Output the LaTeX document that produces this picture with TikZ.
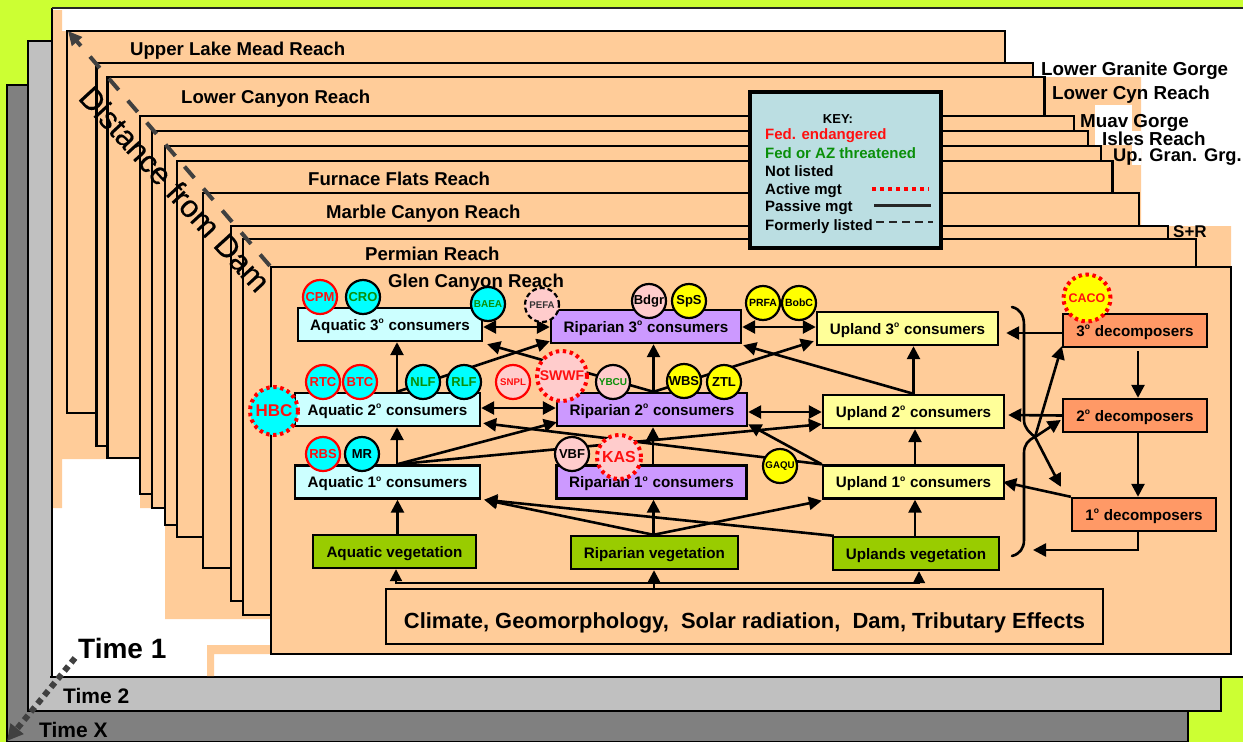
\documentclass[tikz,border=0pt]{standalone}
\usepackage{fontspec}
\setmainfont{Liberation Sans}
\newfontfamily\distfont[FakeBold=0.4]{Liberation Sans}
\usetikzlibrary{arrows.meta,calc}
\pgfdeclarelayer{backlayer}
\pgfdeclarelayer{linelayer}
\pgfsetlayers{backlayer,linelayer,main}
\newcommand{\fz}[1]{\fontsize{#1}{#1}\selectfont}
\newcommand{\ordo}{\raisebox{.42em}{\fz{8.5}o}\kern.6pt}
\definecolor{lime}{HTML}{CCFF33}
\definecolor{peach}{HTML}{FFCC99}
\definecolor{lgray}{HTML}{C0C0C0}
\definecolor{dgray}{HTML}{808080}
\definecolor{aqfill}{HTML}{CCFFFF}
\definecolor{ripfill}{HTML}{CC99FF}
\definecolor{upfill}{HTML}{FFFF99}
\definecolor{decfill}{HTML}{FF9966}
\definecolor{vegfill}{HTML}{99CC00}
\definecolor{spcyan}{HTML}{00FFFF}
\definecolor{spyellow}{HTML}{FFFF00}
\definecolor{sppink}{HTML}{FFCCCC}
\definecolor{keyfill}{HTML}{BBDEE2}
\definecolor{tgreen}{HTML}{0A8F0A}
\definecolor{tred}{HTML}{FF1010}
\definecolor{arrowgray}{HTML}{404040}
\tikzset{
  card/.style={draw=black,fill=peach,line width=2.2},
  lab/.style={anchor=base west,inner sep=0,font=\bfseries\fz{18.6}},
  sidelab/.style={anchor=base west,inner sep=0,font=\bfseries\fz{18.8}},
  keylab/.style={anchor=base west,inner sep=0,font=\bfseries\fz{15}},
  boxn/.style={draw=black,line width=2.4,inner sep=0,text height=14,text depth=3,font=\bfseries\fz{15.2}},
  aqb/.style={boxn,fill=aqfill,minimum width=185,minimum height=33},
  ripb/.style={boxn,fill=ripfill,minimum width=190,minimum height=33},
  upb/.style={boxn,fill=upfill,minimum width=181,minimum height=33},
  decb/.style={boxn,fill=decfill,minimum width=144,minimum height=33},
  vegb/.style={boxn,fill=vegfill,minimum height=33},
  sp/.style={circle,inner sep=0,minimum size=34,line width=2.2,font=\bfseries\fz{13}},
  spk/.style={sp,draw=black},
  spr/.style={sp,draw=red,text=tred},
  spd/.style={sp,draw=red,text=tred,line width=4,dash pattern=on 3.4 off 3.6,minimum size=46,font=\bfseries\fz{14}},
  arr/.style={line width=2.6,-{Triangle[length=13,width=13]}},
  arrb/.style={line width=2.6,{Triangle[length=13,width=13]}-{Triangle[length=13,width=13]}},
  thinarr/.style={line width=2,{Triangle[length=12,width=12]}-{Triangle[length=12,width=12]}},
  brace/.style={line width=2.6,line cap=round},
}
\begin{document}
\begin{tikzpicture}[x=1pt,y=-1pt]
\useasboundingbox (0,0) rectangle (1243,742);

\begin{pgfonlayer}{backlayer}
\fill[lime] (0,0) rectangle (1243,742);
\draw[fill=dgray,draw=black,line width=2] (7,85) -- (7,742) -- (1188,742) -- (1188,85) -- cycle;
\draw[fill=lgray,draw=black,line width=2] (28,41) rectangle (1221,711);
\fill[white] (52,8) rectangle (1243,677);
\draw[black,line width=1.5] (52,677) -- (52,8);
\draw[black!85,line width=2] (52,8) -- (1243,8);
\draw[black,line width=2] (50,677) -- (1243,677);
\fill[peach] (53,10) -- (62,10) -- (62,31) -- (1005,31) -- (1005,63) -- (1033,63) -- (1033,77)
  -- (1141,77) -- (1141,226) -- (1231,226) -- (1231,654) -- (214,654) -- (214,676) -- (207,676)
  -- (207,645) -- (270,645) -- (270,619) -- (165,619) -- (165,508) -- (140,508) -- (140,459)
  -- (62,459) -- (62,508) -- (53,508) -- cycle;
\fill[white] (1095,105) rectangle (1132,145);
\fill[white] (1132,131) rectangle (1141,165);
\draw[card] (67,31) rectangle (1005,413);
\draw[card] (96.5,63) rectangle (1033,446);
\draw[card] (107.5,77) rectangle (1044.5,458);
\draw[card] (140,116) rectangle (1074,494);
\draw[card] (152,131) rectangle (1088,508);
\draw[card] (165,146) rectangle (1101,525);
\draw[card] (177,161) rectangle (1112.5,537);
\draw[card] (203,193) rectangle (1139,568);
\draw[card] (231,226) rectangle (1168,601);
\draw[card] (243,239) rectangle (1196,615);
\node[card,minimum width=960,minimum height=387,inner sep=0] (glen) at (751,460.5) {};
\end{pgfonlayer}

\coordinate (distend) at (68,31);
\coordinate (timestart) at (75,658);
\coordinate (timeend) at (7,741);
\draw[arrowgray,line width=4,dash pattern=on 15 off 14,-{Triangle[length=14,width=13]}] (glen.north west) -- (distend);
\draw[arrowgray,line width=6,dash pattern=on 6 off 4.6,-{Triangle[length=16,width=16]}] (timestart) -- (timeend);

% reach labels
\node[lab] (lUpper) at (130,55) {Upper Lake Mead Reach};
\node[lab] (lLower) at (181,103) {Lower Canyon Reach};
\node[lab] (lFurn) at (308,185) {Furnace Flats Reach};
\node[lab] (lMarb) at (326,218) {Marble Canyon Reach};
\node[lab] (lPerm) at (365,260) {Permian Reach};
\node[lab] (lGlen) at (388,287) {Glen Canyon Reach};
\node[sidelab] (rLGG) at (1041,75) {Lower Granite Gorge};
\node[sidelab] (rLCR) at (1052,99) {Lower Cyn Reach};
\node[sidelab] (rMuav) at (1080,127) {Muav Gorge};
\node[sidelab] (rIsle) at (1102,145) {Isles Reach};
\node[sidelab,font=\bfseries\fz{18.3}] (rUp) at (1113,161) {Up. Gran. Grg.};
\node[sidelab,font=\bfseries\fz{17}] (rSR) at (1173,237) {S+R};
\node[anchor=center,inner sep=0,rotate=-47.5,font=\distfont\fz{31}] (dist) at (175,189) {Distance from Dam};
\node[anchor=base west,inner sep=0,font=\bfseries\fz{28}] (t1) at (78,658) {Time 1};
\node[anchor=base west,inner sep=0,font=\bfseries\fz{21}] (t2) at (63,703) {Time 2};
\node[anchor=base west,inner sep=0,font=\bfseries\fz{21}] (t3) at (39,737) {Time X};

% key
\node[draw=black,line width=4,fill=keyfill,minimum width=191,minimum height=156,inner sep=0] (key) at (845.5,170) {};
\node[anchor=base,inner sep=0,font=\bfseries\fz{13}] (k0) at (838,123) {KEY:};
\node[keylab,text=tred] (k1) at (765,139) {Fed. endangered};
\node[keylab,text=tgreen] (k2) at (765,158) {Fed or AZ threatened};
\node[keylab] (k3) at (765,176) {Not listed};
\node[keylab] (k4) at (765,194) {Active mgt};
\node[keylab] (k5) at (765,211) {Passive mgt};
\node[keylab] (k6) at (765,230) {Formerly listed};
\coordinate (ka1) at (872,189); \coordinate (ka2) at (929,189);
\coordinate (kb1) at (874,205); \coordinate (kb2) at (931,205);
\coordinate (kc1) at (876,222); \coordinate (kc2) at (933,222);
\draw[red,line width=4.5,dash pattern=on 4 off 4] (ka1) -- (ka2);
\draw[black!85,line width=3] (kb1) -- (kb2);
\draw[black!85,line width=2.5,dash pattern=on 8 off 5] (kc1) -- (kc2);

% boxes
\node[aqb,minimum width=184] (aq3) at (390,324.5) {Aquatic 3\ordo{} consumers};
\node[aqb] (aq2) at (387.5,409.5) {Aquatic 2\ordo{} consumers};
\node[aqb] (aq1) at (387.5,482) {Aquatic 1\ordo{} consumers};
\node[ripb] (rip3) at (646,326.5) {Riparian 3\ordo{} consumers};
\node[ripb] (rip2) at (652,409.5) {Riparian 2\ordo{} consumers};
\node[ripb] (rip1) at (651.5,482) {Riparian 1\ordo{} consumers};
\node[upb] (up3) at (907.5,328.5) {Upland 3\ordo{} consumers};
\node[upb] (up2) at (913.5,411.5) {Upland 2\ordo{} consumers};
\node[upb] (up1) at (913.5,482) {Upland 1\ordo{} consumers};
\node[decb] (d3) at (1135,330.5) {3\ordo{} decomposers};
\node[decb] (d2) at (1135,415.5) {2\ordo{} decomposers};
\node[decb] (d1) at (1144,514.5) {1\ordo{} decomposers};
\node[vegb,minimum width=163] (va) at (394.5,551.5) {Aquatic vegetation};
\node[vegb,minimum width=167] (vr) at (654.5,552.5) {Riparian vegetation};
\node[vegb,minimum width=166] (vu) at (916,553.5) {Uplands vegetation};
\node[boxn,line width=2.2,minimum width=717,minimum height=55,text height=28,text depth=5,font=\bfseries\fz{21.9}] (clim) at (744.5,616.5)
  {Climate, Geomorphology,\ \ Solar radiation,\ \ Dam, Tributary Effects};

% species
\node[spr,fill=spcyan] (CPM) at (320,297) {CPM};
\node[spk,fill=spcyan,text=tgreen] (CRO) at (363,297) {CRO};
\node[spk,fill=spcyan,text=tgreen,font=\bfseries\fz{10}] (BAEA) at (488,304) {BAEA};
\node[spk,dash pattern=on 5 off 3,fill=sppink,text=black!80,font=\bfseries\fz{9.7}] (PEFA) at (542,305) {PEFA};
\node[spr,fill=spcyan] (RTC) at (323,382) {RTC};
\node[spr,fill=spcyan] (BTC) at (360,382) {BTC};
\node[spk,fill=spcyan,text=tgreen] (NLF) at (423,382) {NLF};
\node[spk,fill=spcyan,text=tgreen] (RLF) at (464,382) {RLF};
\node[spr,fill=sppink,font=\bfseries\fz{9.7}] (SNPL) at (513,382) {SNPL};
\node[spd,fill=sppink,minimum size=50] (SWWF) at (562,376) {SWWF};
\node[spd,fill=spcyan,minimum size=48,font=\bfseries\fz{17}] (HBC) at (274,411) {HBC};
\node[spr,fill=spcyan] (RBS) at (323,454) {RBS};
\node[spk,fill=spcyan] (MR) at (362,454) {MR};
\node[spk,fill=sppink] (VBF) at (572,454) {VBF};
\node[spd,fill=sppink,minimum size=44,font=\bfseries\fz{16}] (KAS) at (619,457) {KAS};
\node[spk,fill=sppink,text=tgreen,font=\bfseries\fz{10}] (YBCU) at (613,382) {YBCU};
\node[spk,fill=sppink] (Bdgr) at (649,301) {Bdgr};
\node[spk,fill=spyellow] (SpS) at (689,301) {SpS};
\node[spk,fill=spyellow,font=\bfseries\fz{10.5}] (PRFA) at (763,303) {PRFA};
\node[spk,fill=spyellow,font=\bfseries\fz{10.5}] (BobC) at (799,303) {BobC};
\node[spk,fill=spyellow] (WBS) at (684,381) {WBS};
\node[spk,fill=spyellow] (ZTL) at (724,382) {ZTL};
\node[spk,fill=spyellow,font=\bfseries\fz{9.7}] (GAQU) at (780,466) {GAQU};
\node[spd,fill=spyellow,minimum size=47,font=\bfseries\fz{12.5}] (CACO) at (1087,298) {CACO};

% connectors
\begin{pgfonlayer}{linelayer}
\draw[arr] ([xshift=9.5]aq1.north) -- ([xshift=9.5]aq2.south);
\draw[arr] ([xshift=9.5]aq2.north) -- ([xshift=7]aq3.south);
\draw[arr] ([xshift=3]va.north) -- ([xshift=10]aq1.south);
\draw[arrb] ([yshift=-2.5]aq3.east) -- ([yshift=-.5]rip3.west);
\draw[arrb] ([yshift=1.5]aq2.east) -- ([yshift=1.5]rip2.west);
\draw[arrb] ([yshift=-.5]rip3.east) -- ([yshift=1.5]up3.west);
\draw[arrb] ([yshift=-2.5]rip2.east) -- ([yshift=-.5]up2.west);
\draw[arr] ([xshift=9.5]aq2.north) -- ([yshift=3]rip3.south west);
\draw[arr] ([xshift=1.5]rip2.north) -- ([xshift=4,yshift=-2]aq3.south east);
\draw[arr] ([xshift=1.5]rip2.north) -- ([xshift=7.5]rip3.south);
\draw[arr] ([xshift=1.5]rip2.north) -- ([xshift=-2,yshift=5]up3.south west);
\draw[arr] ([xshift=1.5]rip1.north) -- ([xshift=1]rip2.south);
\draw[arr] (up2.north) -- ([xshift=6]up3.south);
\draw[arr] (up2.north) -- ([xshift=1,yshift=-1]rip3.south east);
\draw[arr] ([xshift=1.5]up1.north) -- ([xshift=1.5]up2.south);
\draw[arr] (up1.north west) -- ([yshift=3]rip2.south east);
\draw[arr] (up1.north west) -- ([xshift=2,yshift=4]aq2.south east);
\draw[arr] ([xshift=9.5]aq1.north) -- ([xshift=1,yshift=5]rip2.south west);
\draw[arr] ([xshift=9.5]aq1.north) -- ([yshift=5]up2.south west);
\draw[arr] ([xshift=-1]vr.north) -- ([xshift=2]rip1.south);
\draw[arr] ([xshift=-1]vr.north) -- ([xshift=3]aq1.south east);
\draw[arr] ([xshift=-1]vr.north) -- ([yshift=-1]up1.south west);
\draw[arr] ([xshift=2]vu.north west) -- ([xshift=3]aq1.south east);
\draw[arr] ([xshift=-1]vu.north) -- ([xshift=1.5]up1.south);
\draw[arr] ([xshift=-90.5]clim.north) -- ([xshift=-.5]vr.south);
\coordinate (busl) at (396,583); \coordinate (busr) at (919,583);
\draw[thinarr] ([xshift=1.5]va.south) -- (busl) -- (busr) -- ([xshift=3]vu.south);
\draw[arr] ([yshift=-2.5]d3.west) -- ([xshift=7,yshift=-4.5]up3.east);
\draw[arr] (d2.west) -- ([xshift=3,yshift=-3.5]up2.east);
\draw[arr] (d1.north west) -- ([xshift=-2]up1.east);
\draw[arr] ([xshift=3,yshift=-3]d3.south) -- ([xshift=3]d2.north);
\draw[arr] ([xshift=3]d2.south) -- ([xshift=-6]d1.north);
\coordinate (retend) at (1033,550);
\draw[arr] ([xshift=-6]d1.south) |- (retend);
\coordinate (cross) at (1035,437);
\draw[brace] (1012,307) .. controls (1020,309) and (1024,315) .. (1024,325) -- (1024,420)
   .. controls (1024,428) and (1030,433) .. (cross);
\draw[arr] (cross) -- ([xshift=-10,yshift=10]d1.north west);
\draw[brace] (1012,556) .. controls (1020,554) and (1024,548) .. (1024,540) -- (1024,453)
   .. controls (1024,445) and (1028,440) .. (cross);
\draw[arr] (cross) -- ([xshift=-1,yshift=-4.5]d2.west);
\draw[arr] (cross) -- ([yshift=2]d3.south west);
\end{pgfonlayer}
\end{tikzpicture}
\end{document}
